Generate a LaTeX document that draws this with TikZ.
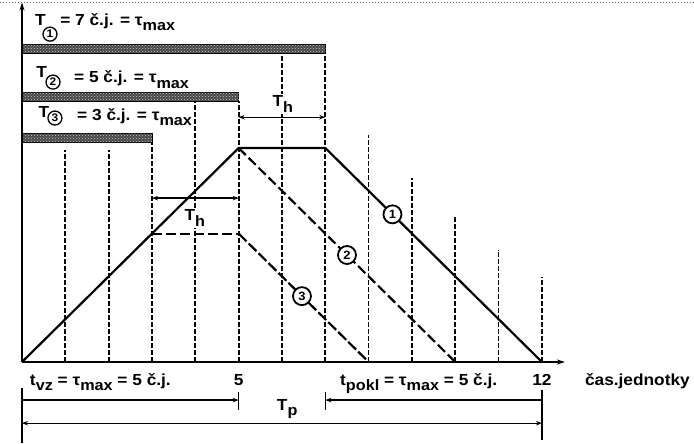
\documentclass[tikz,border=0pt]{standalone}
\usepackage{fontspec}
\setmainfont{Liberation Sans}[FakeStretch=1.08]
\usetikzlibrary{arrows.meta,patterns}
\newcommand{\lowidx}[1]{\raisebox{-0.35em}{\fontsize{15}{17}\selectfont #1}}

\begin{document}
\begin{tikzpicture}[x=43.33pt,y=42.8pt,
  txt/.style={font=\fontsize{16}{19}\selectfont\bfseries,inner sep=0pt},
  numc/.style={circle,draw,solid,line width=1.8pt,fill=white,inner sep=0pt,minimum size=18pt,font=\fontsize{12}{14}\selectfont\bfseries},
  tagc/.style={circle,draw,line width=1.3pt,inner sep=0pt,minimum size=14pt,font=\fontsize{11}{13}\selectfont\bfseries},
  tline/.style={line width=1.7pt,dash pattern=on 5pt off 2pt},
  band/.style={draw=black,line width=0.8pt,fill=black!72,postaction={pattern=crosshatch dots,pattern color=white!80!black}},
  curve/.style={line width=2.2pt},
  dimln/.style={line width=1.3pt},
  endtip/.tip={Stealth[length=6pt,width=4.5pt]}
]
  \useasboundingbox (-0.5077,-1.8925) rectangle (15.509,8.458);
  \draw[dotted,line width=1pt,black!60] (-0.5077,8.41) -- (15.509,8.41);

  % time grid
  \foreach \t/\top in {1/4.95,2/4.95,3/5.14,4/6.10,5/6.10,6/7.22,7/7.22,8/5.30,9/4.30,10/3.39,11/2.62,12/1.99}
    \draw[tline] (\t,0) -- (\t,\top);

  % bands
  \draw[band] (0,7.22) rectangle (7,7.43);
  \draw[band] (0,6.10) rectangle (5,6.31);
  \draw[band] (0,5.14) rectangle (3,5.35);

  \node[txt,anchor=base west] (T1) at (0.30,7.87) {T};
  \node[tagc] (c1) at (0.646,7.66) {1};
  \node[txt,anchor=base west] (eq1) at (0.88,7.87) {= 7 č.j. = τ\lowidx{max}};
  \node[txt,anchor=base west] (T2) at (0.33,6.64) {T};
  \node[tagc] (c2) at (0.716,6.54) {2};
  \node[txt,anchor=base west] (eq2) at (1.20,6.52) {= 5 č.j. = τ\lowidx{max}};
  \node[txt,anchor=base west] (T3) at (0.38,5.72) {T};
  \node[tagc] (c3) at (0.76,5.70) {3};
  \node[txt,anchor=base west] (eq3) at (1.27,5.65) {= 3 č.j. = τ\lowidx{max}};

  % axes
  \coordinate (O) at (0,0);
  \coordinate (xend) at (12.53,0);
  \coordinate (yend) at (0,8.4);
  \draw[line width=1.8pt,-{Stealth[length=8pt,width=5pt]}] (O) -- (xend);
  \draw[line width=1.8pt,-{Stealth[length=8pt,width=5pt]}] (O) -- (yend);

  % courses
  \coordinate (A5) at (5,5);
  \coordinate (A7) at (7,5);
  \coordinate (B3) at (3,3);
  \coordinate (B5) at (5,3);
  \coordinate (E8) at (8,0);
  \coordinate (E10) at (10,0);
  \coordinate (E12) at (12,0);
  \draw[curve] (O) -- (A5) -- (A7) -- node[numc,pos=0.31] (n1) {1} (E12);
  \draw[curve,dash pattern=on 10pt off 4pt] (A5) -- node[numc,pos=0.5] (n2) {2} (E10);
  \draw[curve,dash pattern=on 10pt off 4pt] (B3) -- (B5);
  \draw[curve,dash pattern=on 11pt off 3pt] (B5) -- node[numc,pos=0.487] (n3) {3} (E8);

  % T_h
  \coordinate (h1a) at (5,5.72);
  \coordinate (h1b) at (7,5.72);
  \coordinate (h2a) at (3,3.83);
  \coordinate (h2b) at (5,3.83);
  \draw[dimln,endtip-endtip] (h1a) -- (h1b);
  \draw[dimln,endtip-endtip] (h2a) -- (h2b);
  \node[txt,fill=white,inner sep=2pt] (th1) at (6.02,6.03) {T\lowidx{h}};
  \node[txt,fill=white,inner sep=2pt] (th2) at (3.99,3.36) {T\lowidx{h}};

  % axis texts
  \node[txt,anchor=base west] (tvz) at (0.18,-0.54) {t\lowidx{vz} = τ\lowidx{max} = 5 č.j.};
  \node[txt,anchor=base] (l5) at (5,-0.54) {5};
  \node[txt,anchor=base west] (tpokl) at (7.34,-0.54) {t\lowidx{pokl} = τ\lowidx{max} = 5 č.j.};
  \node[txt,anchor=base] (l12) at (12,-0.54) {12};
  \node[txt,anchor=base west] (unit) at (12.99,-0.54) {čas.jednotky};

  % T_p
  \coordinate (d0) at (0,-0.89);
  \coordinate (d5) at (5,-0.89);
  \coordinate (d7) at (7,-0.89);
  \coordinate (d12) at (12,-0.89);
  \coordinate (e0) at (0,-1.43);
  \coordinate (e12) at (12,-1.43);
  \draw[dimln,-endtip] (d0) -- (d5);
  \draw[dimln,endtip-] (d7) -- (d12);
  \draw[dimln,endtip-endtip] (e0) -- (e12);
  \foreach \t/\a/\b in {0/-0.61/-1.89,5/-0.70/-1.12,7/-0.70/-1.12,12/-0.65/-1.82}
    \draw[dimln] (\t,\a) -- (\t,\b);
  \node[txt] (tp) at (6.12,-1.10) {T\lowidx{p}};
\end{tikzpicture}
\end{document}
